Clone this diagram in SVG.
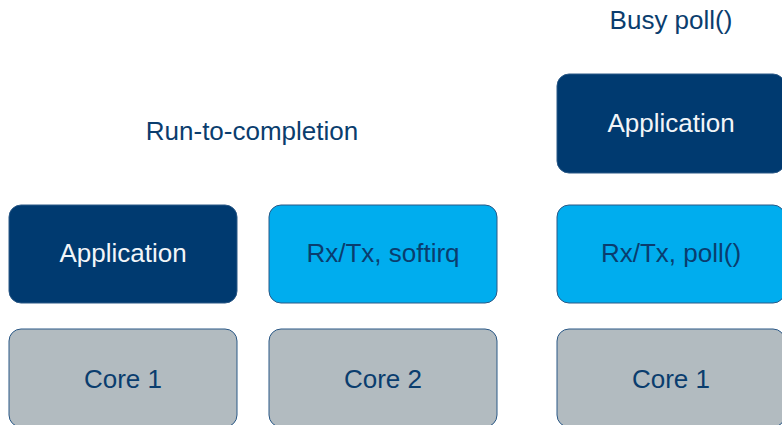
<svg xmlns="http://www.w3.org/2000/svg" width="782" height="425" viewBox="0 0 782 425">
<style>
.box{stroke:#2a5886;stroke-width:1}
.dark{fill:#003a70}
.light{fill:#00adee}
.grey{fill:#b2bbc0}
text{font-family:"Liberation Sans",Arial,sans-serif;font-size:26px;text-anchor:middle}
.tw{fill:#f2f5f8}
.tb{fill:#0a3d6e}
</style>
<rect width="782" height="425" fill="#ffffff"/>
<text class="tb" x="252" y="140">Run-to-completion</text>
<text class="tb" x="671" y="29">Busy poll()</text>
<g id="app1"><rect class="box dark" x="9" y="205" width="228" height="98" rx="12"/><text class="tw" x="123" y="262">Application</text></g>
<g id="core1a"><rect class="box grey" x="9" y="329" width="228" height="98" rx="12"/><text class="tb" x="123" y="388">Core 1</text></g>
<g id="rxtx1"><rect class="box light" x="269" y="205" width="228" height="98" rx="12"/><text class="tb" x="383" y="262">Rx/Tx, softirq</text></g>
<g id="core2"><rect class="box grey" x="269" y="329" width="228" height="98" rx="12"/><text class="tb" x="383" y="388">Core 2</text></g>
<g id="app2"><rect class="box dark" x="557" y="74" width="228" height="99" rx="12"/><text class="tw" x="671" y="132">Application</text></g>
<g id="rxtx2"><rect class="box light" x="557" y="205" width="228" height="98" rx="12"/><text class="tb" x="671" y="262">Rx/Tx, poll()</text></g>
<g id="core1b"><rect class="box grey" x="557" y="329" width="228" height="98" rx="12"/><text class="tb" x="671" y="388">Core 1</text></g>
<g id="connectors"></g>
</svg>
